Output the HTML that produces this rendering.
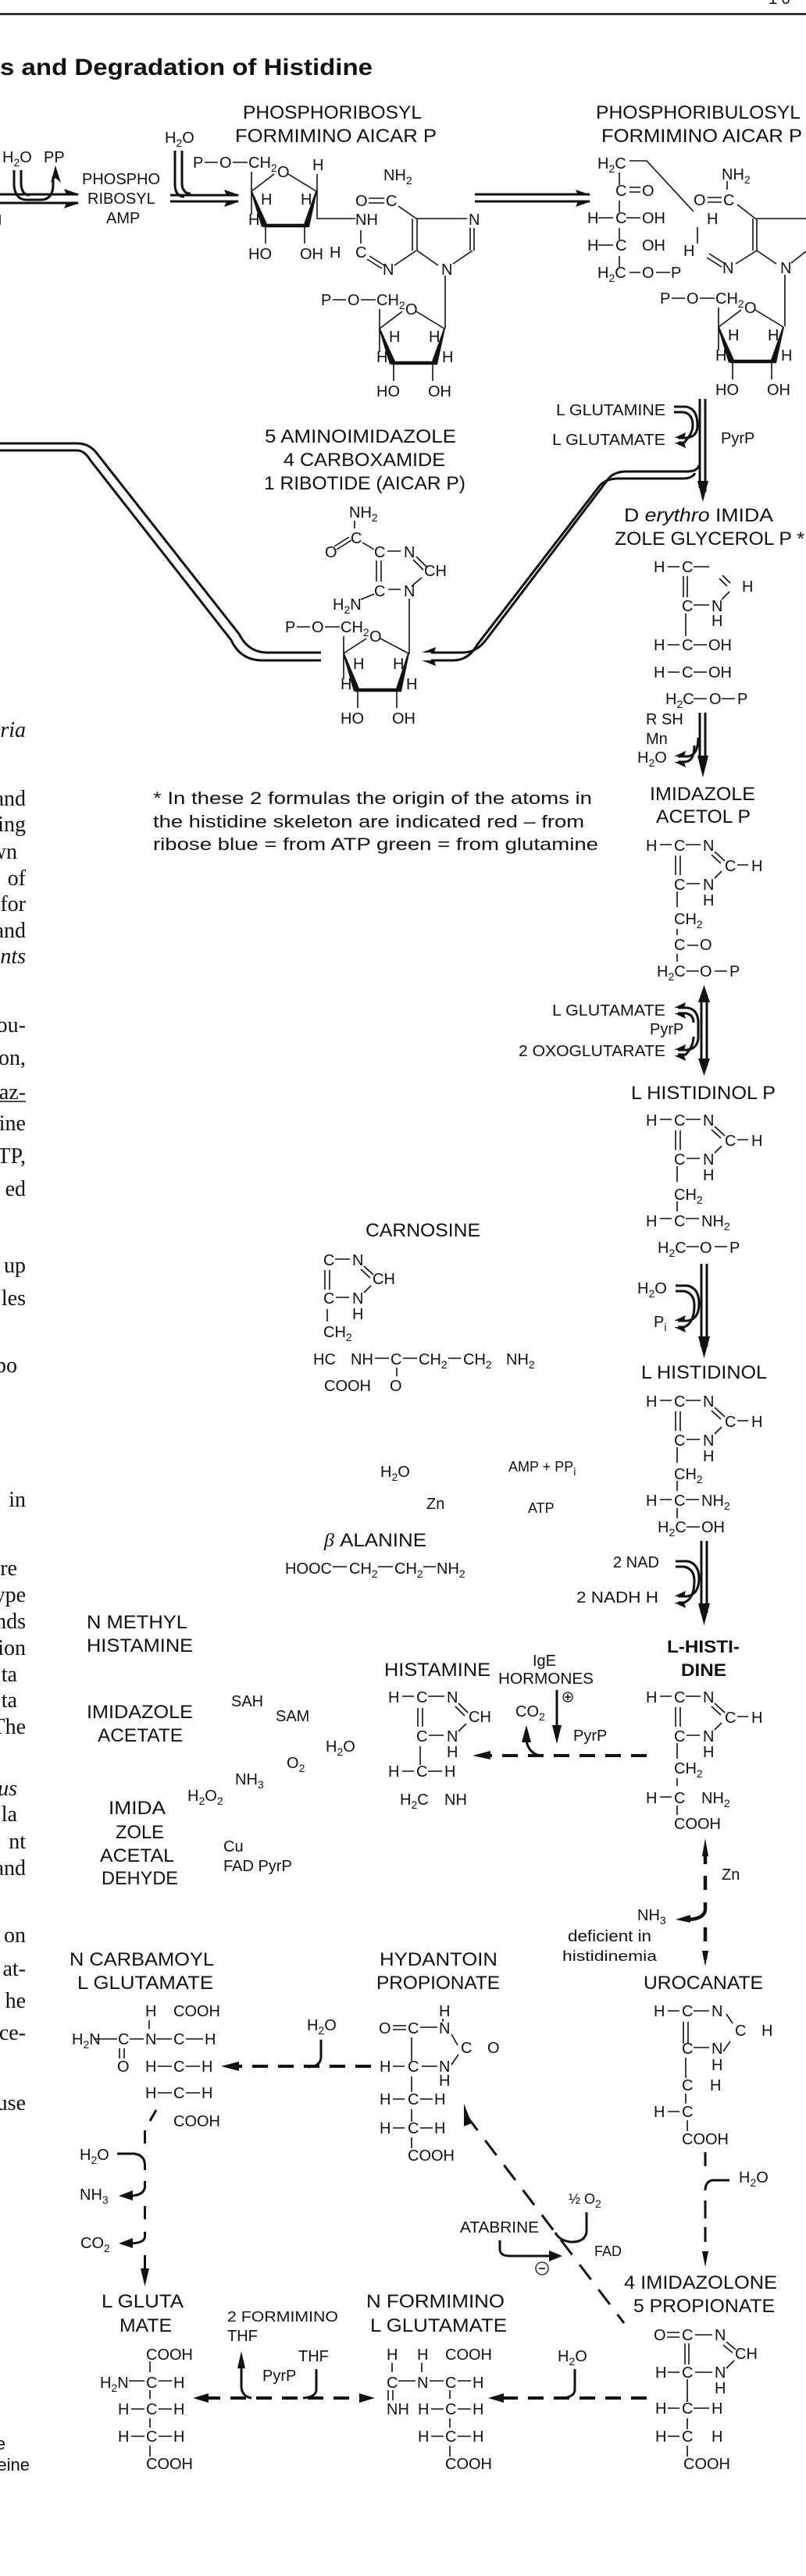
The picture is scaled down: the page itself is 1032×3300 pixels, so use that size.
<!DOCTYPE html>
<html><head><meta charset="utf-8"><title>Biosynthesis and Degradation of Histidine</title>
<style>
html,body{margin:0;padding:0;background:#fff}
svg{display:block}
text{font-family:"Liberation Sans",sans-serif;font-size:20px;fill:#111}
.n{font-size:24px}
.m{font-size:18px}
.b{font-weight:bold}
.r{font-family:"Liberation Serif",serif;font-size:28px;text-anchor:end}
.s{font-size:14px;baseline-shift:-5px}
.l{fill:none;stroke:#111;stroke-width:1.6}
.k{fill:none;stroke:#111;stroke-width:3}
.w{fill:none;stroke:#111;stroke-width:4.5}
.d{fill:none;stroke:#111;stroke-width:4;stroke-dasharray:20 13}
.e{fill:#111;stroke:none}
</style></head><body>
<svg xmlns="http://www.w3.org/2000/svg" width="1032" height="3300" viewBox="0 0 1032 3300">
<rect width="1032" height="3300" fill="#fff"/>
<path d="M0,18H1032" stroke="#111" stroke-width="2.5" fill="none"/>
<text x="984" y="5">1 0</text>
<text x="0" y="96" class="b" style="font-size:30px" textLength="477" lengthAdjust="spacingAndGlyphs">s and Degradation of Histidine</text>

<!-- left margin text -->
<text class="r" x="33" y="944" style="font-style:italic">ria</text>
<text class="r" x="33" y="1032">and</text><text class="r" x="33" y="1065">ing</text><text class="r" x="22" y="1100">wn</text>
<text class="r" x="33" y="1134">of</text><text class="r" x="33" y="1167">for</text><text class="r" x="33" y="1201">and</text>
<text class="r" x="33" y="1234" style="font-style:italic">nts</text>
<text class="r" x="33" y="1322">ou-</text><text class="r" x="33" y="1364">on,</text><text class="r" x="33" y="1408">az-</text>
<path class="l" d="M0,1411H33"/>
<text class="r" x="33" y="1448">ine</text><text class="r" x="33" y="1490">TP,</text><text class="r" x="33" y="1532">ed</text>
<text class="r" x="33" y="1630">up</text><text class="r" x="33" y="1672">les</text><text class="r" x="22" y="1758">bo</text>
<text class="r" x="33" y="1930">in</text><text class="r" x="22" y="2018">re</text><text class="r" x="33" y="2052">ype</text>
<text class="r" x="33" y="2086">nds</text><text class="r" x="33" y="2120">ion</text><text class="r" x="22" y="2154">ta</text>
<text class="r" x="22" y="2187">ta</text><text class="r" x="33" y="2221">The</text>
<text class="r" x="22" y="2300" style="font-style:italic">us</text><text class="r" x="22" y="2333">la</text>
<text class="r" x="33" y="2368">nt</text><text class="r" x="33" y="2402">and</text>
<text class="r" x="33" y="2488">on</text><text class="r" x="33" y="2531">at-</text><text class="r" x="33" y="2572">he</text>
<text class="r" x="33" y="2613">ce-</text><text class="r" x="33" y="2703">use</text>
<text x="7" y="3138" text-anchor="end" style="font-size:22px">e</text><text x="38" y="3165" text-anchor="end" style="font-size:22px">eine</text>

<!-- top row labels -->
<text x="3" y="208">H<tspan class="s">2</tspan>O</text><text x="56" y="208">PP</text>
<text x="105" y="236">PHOSPHO</text><text x="112" y="261">RIBOSYL</text><text x="136" y="286">AMP</text>
<text x="211" y="183">H<tspan class="s">2</tspan>O</text>
<text x="311" y="152" class="n" textLength="229" lengthAdjust="spacingAndGlyphs">PHOSPHORIBOSYL</text>
<text x="301" y="182" class="n" textLength="258" lengthAdjust="spacingAndGlyphs">FORMIMINO AICAR P</text>
<text x="763" y="152" class="n" textLength="262" lengthAdjust="spacingAndGlyphs">PHOSPHORIBULOSYL</text>
<text x="770" y="182" class="n" textLength="257" lengthAdjust="spacingAndGlyphs">FORMIMINO AICAR P</text>

<!-- top arrows -->
<path class="l" d="M0,275V288"/>
<path class="k" d="M0,249H100M0,260H100M18,218V238Q20,256 34,256H52Q68,256 68,236V226M27,218V236Q28,250 38,250"/>
<path class="e" d="M102,249L82,242L85,249ZM102,260L82,267L85,260ZM71,212L65,234L71,228L78,234Z"/>
<path class="k" d="M218,250H305M218,258H305M224,193V238Q225,252 236,252M233,193V236Q234,248 244,248"/>
<path class="e" d="M307,250L287,243L290,250ZM307,258L287,265L290,258Z"/>
<path class="k" d="M608,249H755M608,258H755"/>
<path class="e" d="M757,250L737,243L740,250ZM757,258L737,265L740,258Z"/>

<!-- ribose 1 -->
<g transform="translate(247,215)">
<text>P</text><text x="34">O</text><text x="71">CH<tspan class="s">2</tspan></text><text x="108" y="12">O</text>
<text x="87" y="47">H</text><text x="138" y="47">H</text><text x="71" y="73">H</text>
<text x="71" y="117">HO</text><text x="137" y="117">OH</text>
<path class="l" d="M15,-7H32M51,-7H70M75,5V60M75,30L104,8M122,8L158,30M93,74V97M143,74V97"/>
<path class="e" d="M74,30L76,30L95,72L88,76ZM159,30L157,30L142,72L149,76Z"/>
<path class="w" d="M90,74H149"/>
</g>
<text x="400" y="218">H</text><text x="422" y="330">H</text>
<path class="l" d="M406,223V280H455"/>
<text x="455" y="288">NH</text><text x="455" y="330">C</text><text x="490" y="352">N</text>
<path class="l" d="M462,295V312M470,332L489,344M473,328L492,340"/>
<text x="491" y="231">NH<tspan class="s">2</tspan></text>
<text x="455" y="264">O</text><text x="494" y="264">C</text>
<path class="l" d="M472,254H492M472,260H492M510,264L533,280H598M528,280V321M534,280V321M534,321L561,340M580,338L605,321M602,321V292M607,321V292"/>
<text x="600" y="288">N</text><text x="565" y="352">N</text>
<path class="l" d="M533,321L505,340"/>
<path class="l" d="M570,353V421"/>
<!-- ribose 2 -->
<g transform="translate(411,391)">
<text>P</text><text x="34">O</text><text x="71">CH<tspan class="s">2</tspan></text><text x="108" y="12">O</text>
<text x="87" y="47">H</text><text x="138" y="47">H</text><text x="71" y="73">H</text><text x="155" y="73">H</text>
<text x="71" y="117">HO</text><text x="137" y="117">OH</text>
<path class="l" d="M15,-7H32M51,-7H70M75,5V60M75,30L104,8M122,8L158,30M93,74V97M143,74V97"/>
<path class="e" d="M74,30L76,30L95,72L88,76ZM159,30L157,30L142,72L149,76Z"/>
<path class="w" d="M90,74H149"/>
</g>

<!-- open chain -->
<text x="765" y="216">H<tspan class="s">2</tspan>C</text>
<path class="l" d="M806,206H828L888,271M793,221V237M793,257V272M793,292V307M793,328V342M766,279H785M802,279H820M766,314H785M806,240H820M806,246H820M806,349H820M840,349H858"/>
<text x="788" y="251">C</text><text x="822" y="251">O</text>
<text x="752" y="286">H</text><text x="788" y="286">C</text><text x="822" y="286">OH</text>
<text x="752" y="321">H</text><text x="788" y="321">C</text><text x="822" y="321">OH</text>
<text x="765" y="356">H<tspan class="s">2</tspan>C</text><text x="822" y="356">O</text><text x="859" y="356">P</text>
<text x="905" y="287">H</text><text x="875" y="328">H</text><text x="925" y="350">N</text>
<path class="l" d="M893,291V312M908,325L927,337M905,330L924,342"/>
<text x="924" y="230">NH<tspan class="s">2</tspan></text><text x="888" y="263">O</text><text x="926" y="263">C</text>
<path class="l" d="M931,232V243M906,253H924M906,259H924M944,262L967,280H1032M964,280V321M969,280V321M969,321L994,338M1013,337L1032,322M969,321L942,338"/>
<text x="999" y="350">N</text>
<path class="l" d="M1005,352V418"/>
<!-- ribose 3 -->
<g transform="translate(845,389)">
<text>P</text><text x="34">O</text><text x="71">CH<tspan class="s">2</tspan></text><text x="108" y="12">O</text>
<text x="87" y="47">H</text><text x="138" y="47">H</text><text x="71" y="73">H</text><text x="155" y="73">H</text>
<text x="71" y="117">HO</text><text x="137" y="117">OH</text>
<path class="l" d="M15,-7H32M51,-7H70M75,5V60M75,30L104,8M122,8L158,30M93,74V97M143,74V97"/>
<path class="e" d="M74,30L76,30L95,72L88,76ZM159,30L157,30L142,72L149,76Z"/>
<path class="w" d="M90,74H149"/>
</g>

<!-- glutamine arrow -->
<text x="712" y="532" textLength="140" lengthAdjust="spacingAndGlyphs">L GLUTAMINE</text>
<text x="707" y="570" textLength="145" lengthAdjust="spacingAndGlyphs">L GLUTAMATE</text>
<text x="923" y="568">PyrP</text>
<path class="k" d="M896,511V625M903,511V630"/>
<path class="e" d="M900,643L893,616H907Z"/>
<path class="k" d="M863,521H878Q893,523 893,545Q893,560 878,561H868M863,528H875Q887,530 887,545Q887,555 876,567H868"/>
<path class="e" d="M863,561L878,554L876,561ZM863,567L878,574L876,567Z"/>

<!-- pipelines -->
<path class="k" d="M895,596Q893,604 880,604H802Q788,604 780,612L622,820Q610,836 592,836H552"/>
<path class="k" d="M890,606Q886,613 875,613H792Q776,613 768,622L611,826Q600,846 580,846H552"/>
<path class="k" d="M0,568H99Q115,568 125,582L306,812Q318,836 342,836H411"/>
<path class="k" d="M0,577H99Q108,577 116,590L296,820Q308,846 336,846H411"/>
<path class="e" d="M540,836L558,829L556,836ZM540,846L558,853L556,846Z"/>

<!-- AICAR -->
<text x="339" y="567" class="n" textLength="245" lengthAdjust="spacingAndGlyphs">5 AMINOIMIDAZOLE</text>
<text x="363" y="597" class="n" textLength="207" lengthAdjust="spacingAndGlyphs">4 CARBOXAMIDE</text>
<text x="338" y="627" class="n" textLength="258" lengthAdjust="spacingAndGlyphs">1 RIBOTIDE (AICAR P)</text>
<text x="447" y="663">NH<tspan class="s">2</tspan></text>
<text x="449" y="696">C</text><text x="416" y="714">O</text><text x="479" y="714">C</text><text x="517" y="714">N</text>
<text x="543" y="738">CH</text><text x="517" y="764">N</text><text x="479" y="764">C</text>
<text x="426" y="781">H<tspan class="s">2</tspan>N</text>
<path class="l" d="M454,667V677M428,700L447,688M431,704L450,692M464,695L479,704M496,706H513M533,713L546,726M529,717L542,730M540,740L527,751M497,755H513M482,718V745M488,718V745M462,768L479,761"/>
<path class="l" d="M524,767V838"/>
<g transform="translate(365,810)">
<text>P</text><text x="34">O</text><text x="71">CH<tspan class="s">2</tspan></text><text x="108" y="12">O</text>
<text x="87" y="47">H</text><text x="138" y="47">H</text><text x="71" y="73">H</text><text x="155" y="73">H</text>
<text x="71" y="117">HO</text><text x="137" y="117">OH</text>
<path class="l" d="M15,-7H32M51,-7H70M75,5V60M75,27L104,8M122,8L158,27M93,74V97M143,74V97"/>
<path class="e" d="M74,27L76,27L95,72L88,76ZM159,27L157,27L142,72L149,76Z"/>
<path class="w" d="M90,74H149"/>
</g>

<!-- footnote -->
<text x="196" y="1030" class="n" style="font-size:22px" textLength="562" lengthAdjust="spacingAndGlyphs">* In these 2 formulas  the origin of the atoms in</text>
<text x="196" y="1060" class="n" style="font-size:22px" textLength="552" lengthAdjust="spacingAndGlyphs">the histidine skeleton are indicated  red – from</text>
<text x="196" y="1089" class="n" style="font-size:22px" textLength="570" lengthAdjust="spacingAndGlyphs">ribose  blue = from ATP green = from glutamine</text>

<!-- D erythro imidazole glycerol P -->
<text x="799" y="668" class="n" textLength="191" lengthAdjust="spacingAndGlyphs">D <tspan style="font-style:italic">erythro</tspan> IMIDA</text>
<text x="787" y="698" class="n" textLength="243" lengthAdjust="spacingAndGlyphs">ZOLE GLYCEROL P *</text>
<text x="837" y="733">H</text><text x="873" y="733">C</text><text x="950" y="758">H</text>
<text x="873" y="783">C</text><text x="911" y="783">N</text><text x="911" y="802">H</text>
<path class="l" d="M855,726H870M888,726H908M925,737L935,747M921,741L931,751M934,758L924,768M888,775H908M875,738V765M880,738V765M878,786V815M855,826H870M888,826H905M855,861H870M888,861H905M888,895H905M924,895H941"/>
<text x="837" y="833">H</text><text x="873" y="833">C</text><text x="907" y="833">OH</text>
<text x="837" y="868">H</text><text x="873" y="868">C</text><text x="907" y="868">OH</text>
<text x="852" y="902">H<tspan class="s">2</tspan>C</text><text x="908" y="902">O</text><text x="944" y="902">P</text>

<text x="827" y="928">R SH</text><text x="827" y="953">Mn</text><text x="816" y="977">H<tspan class="s">2</tspan>O</text>
<path class="k" d="M896,913V975M903,913V980"/>
<path class="e" d="M900,996L893,968H907Z"/>
<path class="k" d="M894,945Q894,968 880,969H868M889,955Q889,976 876,976H868"/>
<path class="e" d="M863,969L878,962L876,969ZM863,976L878,983L876,976Z"/>

<text x="832" y="1025" class="n" textLength="135" lengthAdjust="spacingAndGlyphs">IMIDAZOLE</text>
<text x="840" y="1054" class="n" textLength="121" lengthAdjust="spacingAndGlyphs">ACETOL P</text>

<!-- ring imidazole acetol P -->
<g>
<text x="827" y="1090">H</text><text x="863" y="1090">C</text><text x="900" y="1090">N</text>
<text x="928" y="1116">C</text><text x="962" y="1116">H</text>
<text x="863" y="1140">C</text><text x="900" y="1140">N</text><text x="900" y="1160">H</text>
<path class="l" d="M845,1082H860M878,1082H897M915,1091L928,1103M911,1095L923,1106M944,1108H958M924,1116L915,1125M879,1132H896M865,1096V1121M871,1096V1121M867,1142V1162"/>
</g>
<text x="863" y="1184">CH<tspan class="s">2</tspan></text><text x="863" y="1217">C</text><text x="896" y="1217">O</text>
<text x="841" y="1251">H<tspan class="s">2</tspan>C</text><text x="896" y="1251">O</text><text x="934" y="1251">P</text>
<path class="l" d="M867,1190V1198M880,1211H894M867,1222V1232M879,1244H895M915,1244H931"/>

<!-- transaminase arrow -->
<text x="707" y="1301" textLength="145" lengthAdjust="spacingAndGlyphs">L GLUTAMATE</text>
<text x="832" y="1325">PyrP</text>
<text x="664" y="1353" textLength="188" lengthAdjust="spacingAndGlyphs">2 OXOGLUTARATE</text>
<path class="k" d="M898,1275V1365M905,1275V1365"/>
<path class="e" d="M901.5,1262L894,1284H909ZM901.5,1378L894,1356H909Z"/>
<path class="k" d="M868,1291H880Q893,1293 894,1308V1330Q893,1343 880,1345H868M868,1298H878Q888,1300 888,1310M888,1328Q888,1340 878,1351H868"/>
<path class="e" d="M863,1291L878,1284L876,1291ZM863,1298L878,1305L876,1298ZM863,1345L878,1338L876,1345ZM863,1352L878,1359L876,1352Z"/>

<text x="808" y="1408" class="n" textLength="185" lengthAdjust="spacingAndGlyphs">L HISTIDINOL P</text>

<g transform="translate(0,352)">
<text x="827" y="1090">H</text><text x="863" y="1090">C</text><text x="900" y="1090">N</text>
<text x="928" y="1116">C</text><text x="962" y="1116">H</text>
<text x="863" y="1140">C</text><text x="900" y="1140">N</text><text x="900" y="1160">H</text>
<path class="l" d="M845,1082H860M878,1082H897M915,1091L928,1103M911,1095L923,1106M944,1108H958M924,1116L915,1125M879,1132H896M865,1096V1121M871,1096V1121M867,1142V1162"/>
</g>
<text x="863" y="1537">CH<tspan class="s">2</tspan></text>
<text x="827" y="1571">H</text><text x="863" y="1571">C</text><text x="898" y="1571">NH<tspan class="s">2</tspan></text>
<text x="842" y="1605">H<tspan class="s">2</tspan>C</text><text x="896" y="1605">O</text><text x="934" y="1605">P</text>
<path class="l" d="M867,1539V1552M845,1561H860M878,1561H895M879,1597H895M915,1597H931"/>

<!-- phosphatase arrow -->
<text x="816" y="1657">H<tspan class="s">2</tspan>O</text><text x="837" y="1700">P<tspan class="s">i</tspan></text>
<path class="k" d="M898,1619V1725M905,1619V1725"/>
<path class="e" d="M901.5,1740L894,1712H909Z"/>
<path class="k" d="M865,1647H880Q895,1650 895,1670Q895,1690 880,1692H868M865,1654H876Q889,1657 889,1672Q889,1695 876,1700H868"/>
<path class="e" d="M863,1692L878,1685L876,1692ZM863,1700L878,1707L876,1700Z"/>

<text x="821" y="1766" class="n" textLength="161" lengthAdjust="spacingAndGlyphs">L HISTIDINOL</text>

<g transform="translate(0,712)">
<text x="827" y="1090">H</text><text x="863" y="1090">C</text><text x="900" y="1090">N</text>
<text x="928" y="1116">C</text><text x="962" y="1116">H</text>
<text x="863" y="1140">C</text><text x="900" y="1140">N</text><text x="900" y="1160">H</text>
<path class="l" d="M845,1082H860M878,1082H897M915,1091L928,1103M911,1095L923,1106M944,1108H958M924,1116L915,1125M879,1132H896M865,1096V1121M871,1096V1121M867,1142V1162"/>
</g>
<text x="863" y="1895">CH<tspan class="s">2</tspan></text>
<text x="827" y="1929">H</text><text x="863" y="1929">C</text><text x="898" y="1929">NH<tspan class="s">2</tspan></text>
<text x="842" y="1963">H<tspan class="s">2</tspan>C</text><text x="898" y="1963">OH</text>
<path class="l" d="M867,1897V1910M845,1921H860M878,1921H895M867,1932V1945M879,1956H896"/>

<!-- NAD arrow -->
<text x="785" y="2008">2 NAD</text><text x="738" y="2053" textLength="105" lengthAdjust="spacingAndGlyphs">2 NADH   H</text>
<path class="k" d="M898,1974V2066M905,1974V2066"/>
<path class="e" d="M901.5,2082L894,2054H909Z"/>
<path class="k" d="M865,2000H880Q895,2003 895,2022Q895,2042 880,2045H868M865,2007H876Q889,2010 889,2025Q889,2048 876,2053H868"/>
<path class="e" d="M863,2045L878,2038L876,2045ZM863,2053L878,2060L876,2053Z"/>

<text x="854" y="2117" class="b" style="font-size:22px" textLength="93" lengthAdjust="spacingAndGlyphs">L-HISTI-</text>
<text x="872" y="2147" class="b" style="font-size:22px" textLength="58" lengthAdjust="spacingAndGlyphs">DINE</text>

<!-- carnosine -->
<text x="468" y="1584" class="n" textLength="147" lengthAdjust="spacingAndGlyphs">CARNOSINE</text>
<text x="414" y="1621">C</text><text x="451" y="1621">N</text><text x="477" y="1645">CH</text>
<text x="414" y="1670">C</text><text x="451" y="1670">N</text><text x="451" y="1690">H</text>
<path class="l" d="M429,1613H448M466,1622L478,1633M462,1626L474,1637M475,1647L466,1656M430,1662H447M416,1627V1652M422,1627V1652M419,1677V1693"/>
<text x="414" y="1713">CH<tspan class="s">2</tspan></text>
<text x="401" y="1748">HC</text><text x="449" y="1748">NH</text><text x="500" y="1748">C</text>
<text x="536" y="1748">CH<tspan class="s">2</tspan></text><text x="593" y="1748">CH<tspan class="s">2</tspan></text><text x="648" y="1748">NH<tspan class="s">2</tspan></text>
<path class="l" d="M480,1740H498M516,1740H534M574,1740H590M508,1752V1763"/>
<text x="415" y="1782">COOH</text><text x="499" y="1782">O</text>

<text x="487" y="1892">H<tspan class="s">2</tspan>O</text>
<text x="651" y="1885" class="m">AMP + PP<tspan class="s">i</tspan></text>
<text x="546" y="1933">Zn</text><text x="676" y="1938" class="m">ATP</text>
<text x="415" y="1981" class="n" textLength="131" lengthAdjust="spacingAndGlyphs"><tspan style="font-style:italic;font-family:'Liberation Serif',serif">β</tspan> ALANINE</text>
<text x="365" y="2016">HOOC</text><text x="447" y="2016">CH<tspan class="s">2</tspan></text><text x="505" y="2016">CH<tspan class="s">2</tspan></text><text x="559" y="2016">NH<tspan class="s">2</tspan></text>
<path class="l" d="M426,2007H444M484,2007H503M542,2007H558"/>

<!-- left names -->
<text x="111" y="2086" class="n" textLength="129" lengthAdjust="spacingAndGlyphs">N METHYL</text>
<text x="111" y="2116" class="n" textLength="136" lengthAdjust="spacingAndGlyphs">HISTAMINE</text>
<text x="111" y="2201" class="n" textLength="136" lengthAdjust="spacingAndGlyphs">IMIDAZOLE</text>
<text x="125" y="2231" class="n" textLength="109" lengthAdjust="spacingAndGlyphs">ACETATE</text>
<text x="296" y="2186">SAH</text><text x="353" y="2205">SAM</text><text x="417" y="2244">H<tspan class="s">2</tspan>O</text>
<text x="367" y="2265">O<tspan class="s">2</tspan></text><text x="301" y="2286">NH<tspan class="s">3</tspan></text><text x="240" y="2307">H<tspan class="s">2</tspan>O<tspan class="s">2</tspan></text>
<text x="139" y="2324" class="n" textLength="73" lengthAdjust="spacingAndGlyphs">IMIDA</text>
<text x="148" y="2355" class="n" textLength="62" lengthAdjust="spacingAndGlyphs">ZOLE</text>
<text x="128" y="2385" class="n" textLength="95" lengthAdjust="spacingAndGlyphs">ACETAL</text>
<text x="130" y="2414" class="n" textLength="98" lengthAdjust="spacingAndGlyphs">DEHYDE</text>
<text x="286" y="2372">Cu</text><text x="286" y="2397">FAD  PyrP</text>

<!-- histamine -->
<text x="492" y="2147" class="n" textLength="136" lengthAdjust="spacingAndGlyphs">HISTAMINE</text>
<text x="682" y="2134">IgE</text>
<text x="638" y="2157" textLength="122" lengthAdjust="spacingAndGlyphs">HORMONES</text>
<text x="497" y="2181">H</text><text x="533" y="2181">C</text><text x="572" y="2181">N</text><text x="600" y="2206">CH</text>
<text x="533" y="2231">C</text><text x="572" y="2231">N</text><text x="572" y="2251">H</text>
<path class="l" d="M515,2173H530M548,2173H569M587,2182L599,2194M583,2186L595,2198M597,2208L587,2218M549,2223H568M535,2188V2212M541,2188V2212M538,2237V2261M515,2269H530M548,2269H566"/>
<text x="497" y="2276">H</text><text x="533" y="2276">C</text><text x="569" y="2276">H</text>
<text x="512" y="2312">H<tspan class="s">2</tspan>C</text><text x="569" y="2312">NH</text>
<circle cx="727" cy="2174" r="6" fill="none" stroke="#111" stroke-width="1.3"/><path class="l" d="M723,2174H731M727,2170V2178"/>
<path class="k" d="M713,2165V2218"/><path class="e" d="M713,2234L707,2210H719Z"/>
<text x="734" y="2230">PyrP</text><text x="660" y="2199">CO<tspan class="s">2</tspan></text>
<path class="k" d="M692,2249Q674,2246 673,2222"/><path class="e" d="M674,2210L668,2232H680Z"/>
<path class="d" d="M828,2249H620"/><path class="e" d="M605,2249L628,2243L628,2254Z"/>

<!-- L histidine -->
<g transform="translate(0,1091)">
<text x="827" y="1090">H</text><text x="863" y="1090">C</text><text x="900" y="1090">N</text>
<text x="928" y="1116">C</text><text x="962" y="1116">H</text>
<text x="863" y="1140">C</text><text x="900" y="1140">N</text><text x="900" y="1160">H</text>
<path class="l" d="M845,1082H860M878,1082H897M915,1091L928,1103M911,1095L923,1106M944,1108H958M924,1116L915,1125M879,1132H896M865,1096V1121M871,1096V1121M867,1142V1162"/>
</g>
<text x="863" y="2272">CH<tspan class="s">2</tspan></text>
<text x="827" y="2310">H</text><text x="863" y="2310">C</text><text x="898" y="2310">NH<tspan class="s">2</tspan></text>
<text x="863" y="2343">COOH</text>
<path class="l" d="M867,2278V2288M845,2302H860M867,2313V2325"/>

<!-- histidase arrow -->
<path class="e" d="M903,2355L899,2378H907Z"/>
<path class="w" d="M903,2372V2388M903,2403V2421M903,2469V2487M903,2501V2510"/>
<path class="e" d="M903,2519L899,2499H907Z"/>
<path class="w" d="M903,2437V2447Q901,2458 882,2459"/><path class="e" d="M865,2459L884,2453L884,2463Z"/>
<text x="924" y="2408">Zn</text><text x="816" y="2460">NH<tspan class="s">3</tspan></text>
<text x="727" y="2487" textLength="107" lengthAdjust="spacingAndGlyphs">deficient  in</text>
<text x="720" y="2512" class="m" textLength="121" lengthAdjust="spacingAndGlyphs">histidinemia</text>

<!-- row 4 -->
<text x="89" y="2518" class="n" textLength="185" lengthAdjust="spacingAndGlyphs">N CARBAMOYL</text>
<text x="99" y="2548" class="n" textLength="174" lengthAdjust="spacingAndGlyphs">L GLUTAMATE</text>
<text x="486" y="2518" class="n" textLength="151" lengthAdjust="spacingAndGlyphs">HYDANTOIN</text>
<text x="482" y="2548" class="n" textLength="158" lengthAdjust="spacingAndGlyphs">PROPIONATE</text>
<text x="824" y="2548" class="n" textLength="153" lengthAdjust="spacingAndGlyphs">UROCANATE</text>

<!-- N carbamoyl -->
<text x="186" y="2583">H</text><text x="222" y="2583">COOH</text>
<text x="92" y="2619">H<tspan class="s">2</tspan>N</text><text x="151" y="2619">C</text><text x="186" y="2619">N</text><text x="222" y="2619">C</text><text x="262" y="2619">H</text>
<text x="150" y="2654">O</text>
<text x="186" y="2654">H</text><text x="222" y="2654">C</text><text x="258" y="2654">H</text>
<text x="186" y="2688">H</text><text x="222" y="2688">C</text><text x="258" y="2688">H</text>
<text x="222" y="2724">COOH</text>
<path class="l" d="M191,2588V2599M120,2612H150M166,2612H184M200,2612H220M238,2612H260M153,2624V2637M159,2624V2637M202,2647H220M238,2647H256M202,2681H220M238,2681H256"/>
<text x="393" y="2601">H<tspan class="s">2</tspan>O</text>
<path class="k" d="M411,2613V2636Q410,2647 395,2648"/>
<path class="d" d="M475,2647H300"/><path class="e" d="M283,2647L306,2641L306,2653Z"/>

<!-- left down path -->
<path class="k" d="M200,2703L192,2717M185.5,2729V2746M150,2759H172Q185,2761 185.5,2773V2780M185.5,2794V2802Q184,2813 165,2813M185.5,2826V2843M185.5,2859V2866Q184,2874 165,2874M185.5,2889V2912"/>
<path class="e" d="M152,2813L170,2806L170,2819ZM152,2874L170,2867L170,2880ZM185.5,2929L180,2906H191Z"/>
<text x="102" y="2767">H<tspan class="s">2</tspan>O</text><text x="102" y="2818">NH<tspan class="s">3</tspan></text><text x="103" y="2880">CO<tspan class="s">2</tspan></text>

<!-- hydantoin -->
<text x="562" y="2583">H</text>
<text x="485" y="2605">O</text><text x="522" y="2605">C</text><text x="562" y="2605">N</text>
<text x="590" y="2630">C</text><text x="624" y="2630">O</text>
<text x="486" y="2654">H</text><text x="522" y="2654">C</text><text x="562" y="2654">N</text><text x="562" y="2672">H</text>
<text x="486" y="2696">H</text><text x="522" y="2696">C</text><text x="556" y="2696">H</text>
<text x="486" y="2733">H</text><text x="522" y="2733">C</text><text x="556" y="2733">H</text>
<text x="522" y="2768">COOH</text>
<path class="l" d="M567,2586V2590M503,2595H520M503,2600H520M538,2597H560M578,2606L586,2620M587,2632L578,2645M527,2610V2640M540,2647H560M503,2647H518M527,2660V2680M503,2689H518M538,2689H554M527,2702V2718M503,2726H518M538,2726H554M527,2738V2752"/>

<!-- urocanate -->
<text x="837" y="2583">H</text><text x="873" y="2583">C</text><text x="911" y="2583">N</text>
<text x="941" y="2608">C</text><text x="975" y="2608">H</text>
<text x="873" y="2631">C</text><text x="911" y="2631">N</text><text x="911" y="2652">H</text>
<path class="l" d="M855,2576H870M888,2576H908M930,2580L938,2592M935,2615L926,2628M888,2623H908M875,2590V2618M881,2590V2618M878,2636V2662"/>
<text x="873" y="2678">C</text><text x="909" y="2678">H</text>
<text x="837" y="2712">H</text><text x="873" y="2712">C</text>
<path class="l" d="M878,2682V2695M855,2705H870M880,2716V2730"/>
<text x="873" y="2747">COOH</text>
<path class="k" d="M903,2757V2775M903,2819V2842M903,2853V2872M903,2887V2895"/>
<path class="e" d="M903,2904L899,2884H907Z"/>
<path class="k" d="M934,2793H912Q903,2795 903,2806"/>
<text x="946" y="2796">H<tspan class="s">2</tspan>O</text>

<!-- diagonal dashed -->
<path class="k" stroke-dasharray="24 16" d="M597,2710L799,2976"/>
<path class="e" d="M594,2695L604,2720L594,2724Z"/>
<text x="728" y="2823" style="font-size:18px">½ O<tspan class="s">2</tspan></text>
<path class="k" d="M751,2834V2860Q748,2873 730,2872Q716,2870 711,2860"/>
<text x="761" y="2890" class="m">FAD</text>
<text x="589" y="2860" textLength="101" lengthAdjust="spacingAndGlyphs">ATABRINE</text>
<path class="k" d="M640,2870V2882Q641,2890 652,2890H706"/><path class="e" d="M720,2890L703,2883V2897Z"/>
<circle cx="694" cy="2906" r="8" fill="none" stroke="#111" stroke-width="1.3"/><path class="l" d="M690,2906H698"/>

<text x="799" y="2932" class="n" textLength="196" lengthAdjust="spacingAndGlyphs">4 IMIDAZOLONE</text>
<text x="811" y="2962" class="n" textLength="181" lengthAdjust="spacingAndGlyphs">5 PROPIONATE</text>
<text x="130" y="2956" class="n" textLength="105" lengthAdjust="spacingAndGlyphs">L GLUTA</text>
<text x="153" y="2987" class="n" textLength="67" lengthAdjust="spacingAndGlyphs">MATE</text>
<text x="469" y="2956" class="n" textLength="177" lengthAdjust="spacingAndGlyphs">N FORMIMINO</text>
<text x="474" y="2987" class="n" textLength="175" lengthAdjust="spacingAndGlyphs">L GLUTAMATE</text>
<text x="291" y="2974" class="m" textLength="142" lengthAdjust="spacingAndGlyphs">2 FORMIMINO</text>
<text x="291" y="2999">THF</text><text x="382" y="3025">THF</text><text x="336" y="3050">PyrP</text>

<!-- L glutamate -->
<text x="187" y="3023">COOH</text>
<text x="128" y="3059">H<tspan class="s">2</tspan>N</text><text x="187" y="3059">C</text><text x="222" y="3059">H</text>
<text x="151" y="3093">H</text><text x="187" y="3093">C</text><text x="222" y="3093">H</text>
<text x="151" y="3128">H</text><text x="187" y="3128">C</text><text x="222" y="3128">H</text>
<text x="187" y="3163">COOH</text>
<path class="l" d="M192,3025V3039M165,3050H185M203,3050H220M192,3062V3073M168,3086H185M203,3086H220M192,3098V3110M168,3121H185M203,3121H220M192,3133V3147"/>

<!-- middle dashed -->
<path class="d" d="M262,3072H465"/>
<path class="e" d="M247,3072L267,3066V3078ZM480,3072L460,3066V3078Z"/>
<path class="k" d="M309,3026V3058Q310,3070 322,3072M405,3035V3062Q404,3071 388,3072"/>
<path class="e" d="M309,3012L304,3034H314Z"/>

<!-- N formimino -->
<text x="495" y="3023">H</text><text x="534" y="3023">H</text><text x="570" y="3023">COOH</text>
<text x="495" y="3059">C</text><text x="534" y="3059">N</text><text x="570" y="3059">C</text><text x="605" y="3059">H</text>
<text x="495" y="3093">NH</text>
<text x="535" y="3093">H</text><text x="570" y="3093">C</text><text x="605" y="3093">H</text>
<text x="535" y="3128">H</text><text x="570" y="3128">C</text><text x="605" y="3128">H</text>
<text x="570" y="3163">COOH</text>
<path class="l" d="M502,3027V3039M540,3027V3039M510,3050H532M550,3050H568M586,3050H603M497,3062V3075M503,3062V3075M576,3062V3073M552,3086H568M586,3086H603M576,3098V3110M552,3121H568M586,3121H603M576,3133V3147"/>

<path class="d" d="M828,3072H640"/><path class="e" d="M625,3072L645,3066V3078Z"/>
<text x="714" y="3025">H<tspan class="s">2</tspan>O</text>
<path class="k" d="M736,3035V3062Q735,3071 720,3072"/>

<!-- imidazolone -->
<text x="837" y="2998">O</text><text x="873" y="2998">C</text><text x="915" y="2998">N</text><text x="941" y="3022">CH</text>
<text x="839" y="3046">H</text><text x="873" y="3046">C</text><text x="915" y="3046">N</text><text x="915" y="3066">H</text>
<text x="839" y="3092">H</text><text x="873" y="3092">C</text><text x="911" y="3092">H</text>
<text x="839" y="3128">H</text><text x="873" y="3128">C</text><text x="911" y="3128">H</text>
<text x="875" y="3163">COOH</text>
<path class="l" d="M854,2988H870M854,2994H870M890,2991H912M930,3000L942,3010M926,3004L938,3014M940,3024L930,3034M855,3039H870M890,3039H912M877,3002V3029M882,3002V3029M880,3048V3077M855,3085H870M888,3085H908M880,3098V3112M855,3121H870M880,3133V3147"/>
</svg>
</body></html>
